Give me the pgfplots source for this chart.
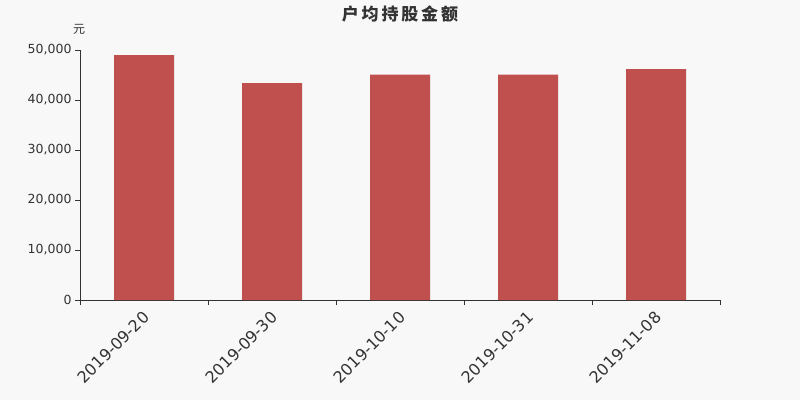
\documentclass[border=0pt]{standalone}
\usepackage{pgfplots}
\pgfplotsset{compat=1.18}
\usepackage{fontspec}
\setmainfont{DejaVu Sans}
\newfontfamily\cjk{Noto Sans CJK SC}
\definecolor{bg}{HTML}{F8F8F8}
\definecolor{barred}{HTML}{C0504D}
\definecolor{ink}{HTML}{333333}

\pgfplotstableread{
x val
0 49000
1 43400
2 45100
3 45100
4 46200
}\holdamount

\begin{document}
\begin{tikzpicture}[x=1pt,y=1pt]
\fill[bg] (0,0) rectangle (800,400);
\begin{axis}[
  at={(80pt,100pt)}, anchor=south west,
  scale only axis, width=640pt, height=250pt,
  xmin=-0.5, xmax=4.5, ymin=0, ymax=50000,
  axis x line*=bottom, axis y line*=left,
  axis line style={ink, line width=0.8pt},
  xtick={0,...,4},
  xticklabels={2019-09-20,2019-09-30,2019-10-10,2019-10-31,2019-11-08},
  minor xtick={-0.5,0.5,...,4.5},
  major x tick style={draw=none},
  minor tick style={ink, line width=0.8pt},
  minor tick length=5pt,
  x tick label style={rotate=45, anchor=north east, font=\fontsize{16}{18}\selectfont, text=ink, inner sep=1pt, xshift=-4pt, yshift=-1pt},
  ytick={0,10000,...,50000},
  y tick style={ink, line width=0.8pt},
  major tick length=5pt,
  tick align=outside,
  y tick label style={font=\fontsize{12.5}{14}\selectfont, text=ink},
  scaled y ticks=false,
  /pgf/number format/.cd, 1000 sep={,}, assume math mode=true,
]
\addplot[ybar, bar width=60pt, fill=barred, draw=none] table[x=x, y=val] {\holdamount};
\end{axis}
\node[font=\cjk\bfseries\fontsize{17}{20}\selectfont, text=ink] at (400,386) {户\,均\,持\,股\,金\,额};
\node[font=\cjk\fontsize{12}{14}\selectfont, text=ink] at (79,371) {元};
\end{tikzpicture}
\end{document}
